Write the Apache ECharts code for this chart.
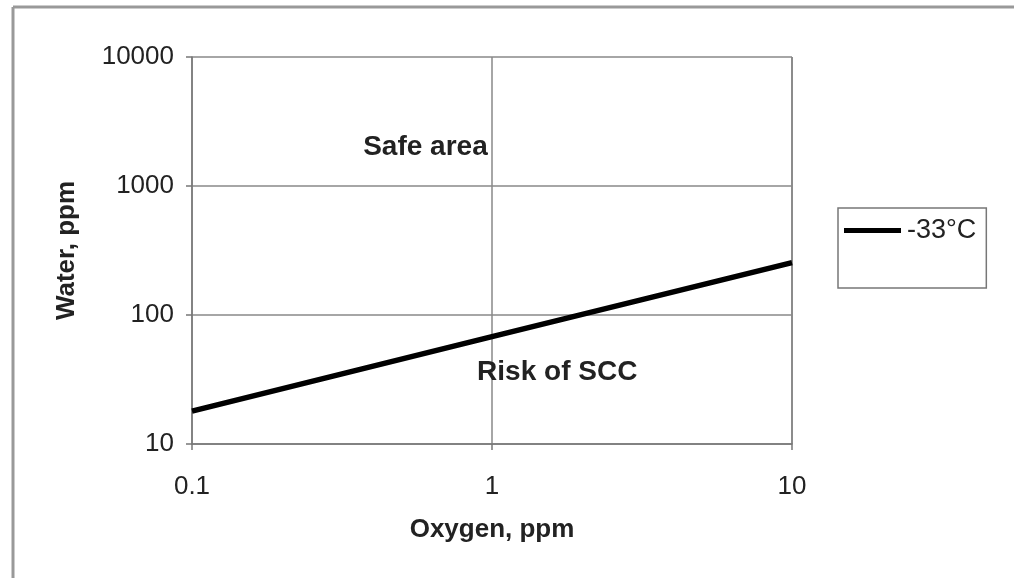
<!DOCTYPE html>
<html>
<head>
<meta charset="utf-8">
<script src="https://cdn.jsdelivr.net/npm/echarts@6/dist/echarts.min.js"></script>
<style>
html,body{margin:0;padding:0;background:#fff;}
#chart{width:1014px;height:578px;}
</style>
</head>
<body>
<div id="chart"></div>
<script>
// Data
var seriesName = '-33°C';
var oxygenPpm = [0.1, 1, 10];
var waterPpm = [18, 68, 255];
var xTicks = [0.1, 1, 10];
var yTicks = [10, 100, 1000, 10000];
var annotationTexts = ['Safe area', 'Risk of SCC'];
var annotationX = [0.6, 1.65];
var annotationY = [2000, 36];

var FONT = 'Liberation Sans, Arial, sans-serif';
var chart = echarts.init(document.getElementById('chart'), null, {renderer: 'canvas'});

var lineData = oxygenPpm.map(function (x, i) { return [x, waterPpm[i]]; });
var annData = annotationX.map(function (x, i) { return {value: [x, annotationY[i]], name: annotationTexts[i]}; });

chart.setOption({
  backgroundColor: '#fff',
  animation: false,
  grid: {left: 192, top: 57, right: 222, bottom: 134, show: false},
  legend: {
    data: [seriesName],
    left: 838, top: 208,
    orient: 'vertical',
    padding: [9, 10, 44, 6],
    borderColor: '#777', borderWidth: 1.5,
    icon: 'rect', itemWidth: 57, itemHeight: 5, itemGap: 4,
    textStyle: {fontFamily: FONT, fontSize: 27, color: '#222', padding: [0, 0, 0, 1]}
  },
  xAxis: {
    type: 'log', logBase: 10, min: 0.1, max: 10,
    name: 'Oxygen, ppm', nameLocation: 'middle', nameGap: 73,
    nameTextStyle: {fontFamily: FONT, fontSize: 26, fontWeight: 'bold', color: '#222'},
    axisLine: {show: true, lineStyle: {color: '#777', width: 1.5}},
    axisTick: {show: true, length: 6, inside: false, lineStyle: {color: '#777', width: 1.5}},
    axisLabel: {fontFamily: FONT, fontSize: 26, color: '#222', margin: 30,
      formatter: function (v) { return xTicks.indexOf(+v.toPrecision(6)) >= 0 ? String(+v.toPrecision(6)) : ''; }},
    splitLine: {show: true, lineStyle: {color: '#888', width: 1.5}}
  },
  yAxis: {
    type: 'log', logBase: 10, min: 10, max: 10000,
    name: 'Water, ppm', nameLocation: 'middle', nameGap: 112, nameRotate: 90,
    nameTextStyle: {fontFamily: FONT, fontSize: 26, fontWeight: 'bold', color: '#222'},
    axisLine: {show: true, lineStyle: {color: '#777', width: 1.5}},
    axisTick: {show: true, length: 6, lineStyle: {color: '#777', width: 1.5}},
    axisLabel: {fontFamily: FONT, fontSize: 26, color: '#222', margin: 18,
      formatter: function (v) { return yTicks.indexOf(Math.round(v)) >= 0 ? String(Math.round(v)) : ''; }},
    splitLine: {show: true, lineStyle: {color: '#888', width: 1.5}}
  },
  series: [
    {
      name: seriesName, type: 'line', data: lineData,
      symbol: 'none', color: '#000',
      lineStyle: {color: '#000', width: 5.5}, z: 5
    },
    {
      name: 'annotations', type: 'scatter', data: annData,
      symbolSize: 0, silent: true,
      itemStyle: {opacity: 1},
      label: {show: true, position: 'inside', formatter: '{b}',
        fontFamily: FONT, fontSize: 28, fontWeight: 'bold', color: '#222'},
      z: 6
    }
  ],
  graphic: [
    {type: 'line', shape: {x1: 13, y1: 7, x2: 13, y2: 578}, style: {stroke: '#999', lineWidth: 3}},
    {type: 'line', shape: {x1: 13, y1: 7, x2: 1014, y2: 7}, style: {stroke: '#999', lineWidth: 3}},
    {type: 'line', shape: {x1: 792, y1: 57, x2: 792, y2: 444}, style: {stroke: '#777', lineWidth: 1.5}}
  ]
});
</script>
</body>
</html>
